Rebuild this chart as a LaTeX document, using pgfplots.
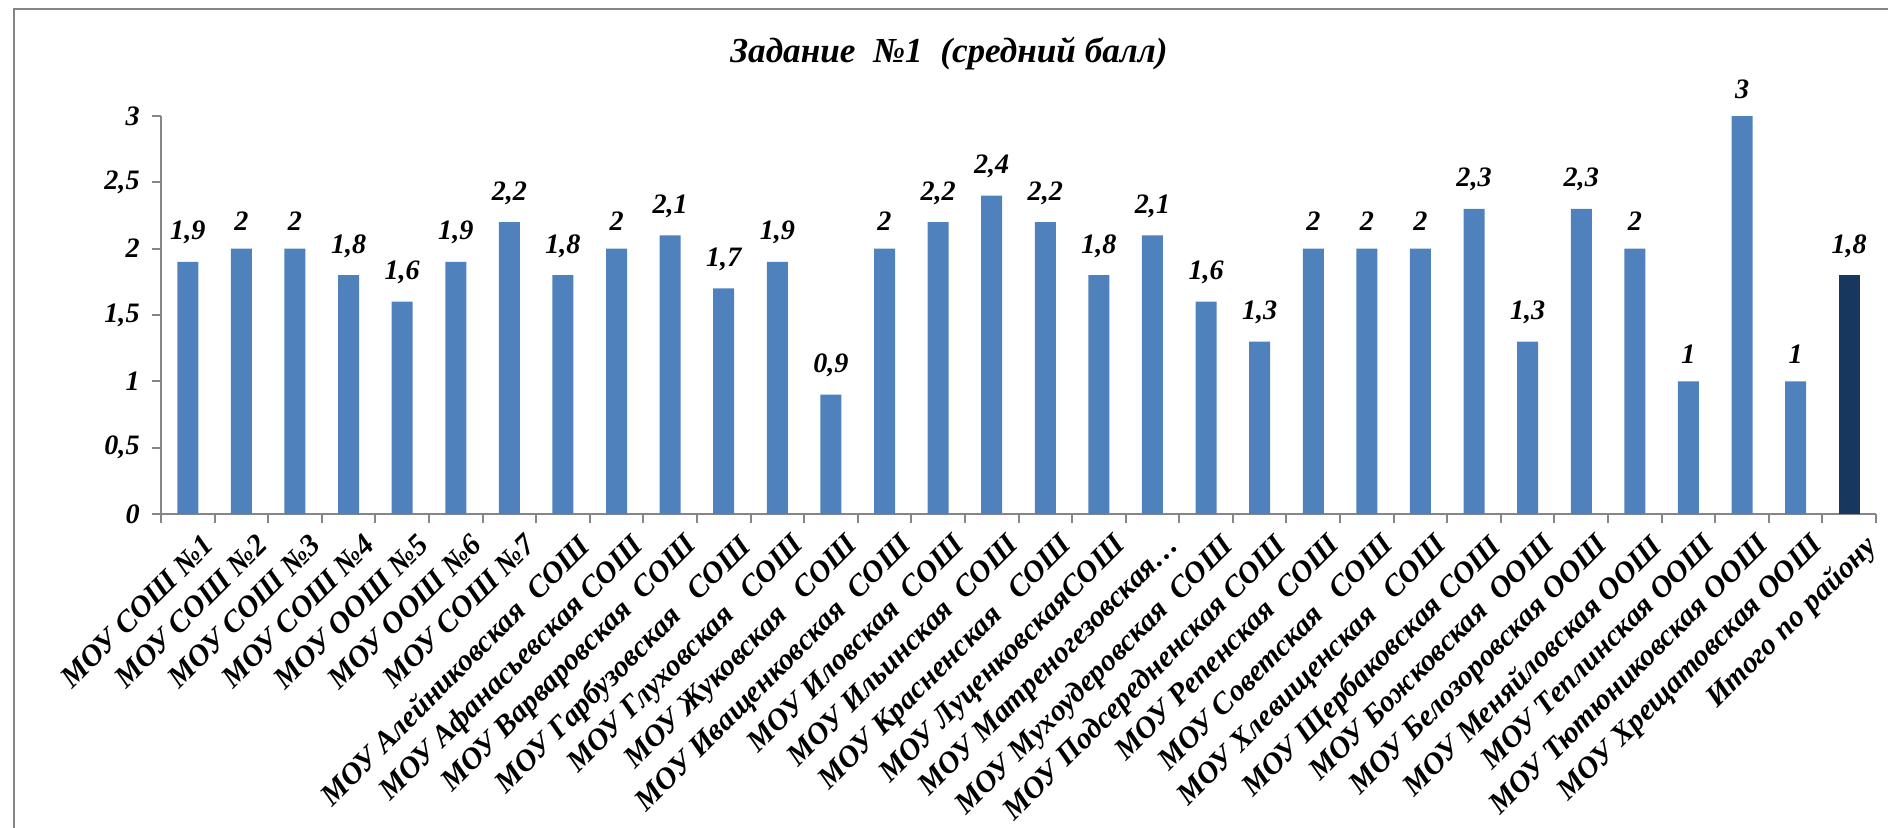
\documentclass[border=0pt]{standalone}
\usepackage{fontspec}
\setmainfont{Liberation Serif}
\usepackage{pgfplots}
\pgfplotsset{compat=1.18}
\definecolor{barblue}{HTML}{4F81BD}
\definecolor{barnavy}{HTML}{17375E}
\definecolor{axgray}{HTML}{868686}
\begin{document}
\begin{tikzpicture}
\useasboundingbox (0,0) rectangle (188.8mm,82.7mm);
\clip (0,0) rectangle (188.8mm,82.7mm);
\draw[axgray, line width=0.25mm] (1.4mm,-5mm) -- (1.4mm,81.8mm) -- (195mm,81.8mm);
\node[font=\fontsize{10}{12}\selectfont\bfseries\itshape, anchor=base, inner sep=0pt] at (94.9mm,76.5mm) {Задание\ \ №1\ \ (средний балл)};
\begin{axis}[
  at={(16.1mm,31.3mm)}, anchor=south west,
  scale only axis, width=171.5mm, height=39.8mm,
  xmin=-0.5, xmax=31.5, ymin=0, ymax=3,
  axis lines*=left,
  axis line style={axgray, line width=0.2mm},
  tick style={axgray, line width=0.2mm},
  tick align=outside,
  major tick length=0.9mm,
  /pgf/number format/assume math mode=true,
  /pgf/number format/use comma,
  ybar, bar width=2.1mm, bar shift=0pt,
  ytick={0,0.5,1,1.5,2,2.5,3},
  yticklabel style={font=\fontsize{8}{9.6}\selectfont\bfseries\itshape, text=black},
  xtick={-0.5,0.5,1.5,2.5,3.5,4.5,5.5,6.5,7.5,8.5,9.5,10.5,11.5,12.5,13.5,14.5,15.5,16.5,17.5,18.5,19.5,20.5,21.5,22.5,23.5,24.5,25.5,26.5,27.5,28.5,29.5,30.5,31.5},
  xticklabel={\relax},
  extra x ticks={0,1,2,3,4,5,6,7,8,9,10,11,12,13,14,15,16,17,18,19,20,21,22,23,24,25,26,27,28,29,30,31},
  extra x tick labels={МОУ СОШ №1,МОУ СОШ №2,МОУ СОШ №3,МОУ СОШ №4,МОУ ООШ №5,МОУ ООШ №6,МОУ СОШ №7,МОУ Алейниковская\ \ СОШ,МОУ Афанасьевская СОШ,МОУ Варваровская\ \ СОШ,МОУ Гарбузовская\ \ \ СОШ,МОУ Глуховская\ \ \ СОШ,МОУ Жуковская\ \ \ СОШ,МОУ Иващенковская\ \ СОШ,МОУ Иловская\ \ СОШ,МОУ Ильинская\ \ СОШ,МОУ Красненская\ \ \ СОШ,МОУ ЛуценковскаяСОШ,МОУ Матреногезовская…,МОУ Мухоудеровская\ \ СОШ,МОУ Подсередненская СОШ,МОУ Репенская\ \ СОШ,МОУ Советская\ \ \ СОШ,МОУ Хлевищенская\ \ \ СОШ,МОУ Щербаковская СОШ,МОУ Божковская\ \ ООШ,МОУ Белозоровская ООШ,МОУ Меняйловская ООШ,МОУ Теплинская ООШ,МОУ Тютюниковская ООШ,МОУ Хрещатовская ООШ,Итого по району},
  extra x tick style={major tick length=0pt, grid=none,
    xticklabel style={rotate=45, anchor=north east, inner sep=0pt, yshift=-2.2mm, xshift=-0.3mm,
      font=\fontsize{8.6}{10.3}\selectfont\bfseries\itshape, text=black}},
  nodes near coords,
  every node near coord/.append style={font=\fontsize{8}{9.6}\selectfont\bfseries\itshape, text=black, yshift=1.5pt},
]
\addplot[fill=barblue, draw=none] coordinates {
(0,1.9) (1,2) (2,2) (3,1.8) (4,1.6) (5,1.9) (6,2.2) (7,1.8) (8,2) (9,2.1)
(10,1.7) (11,1.9) (12,0.9) (13,2) (14,2.2) (15,2.4) (16,2.2) (17,1.8) (18,2.1) (19,1.6)
(20,1.3) (21,2) (22,2) (23,2) (24,2.3) (25,1.3) (26,2.3) (27,2) (28,1) (29,3) (30,1)};
\addplot[fill=barnavy, draw=none] coordinates {(31,1.8)};
\end{axis}
\end{tikzpicture}
\end{document}
